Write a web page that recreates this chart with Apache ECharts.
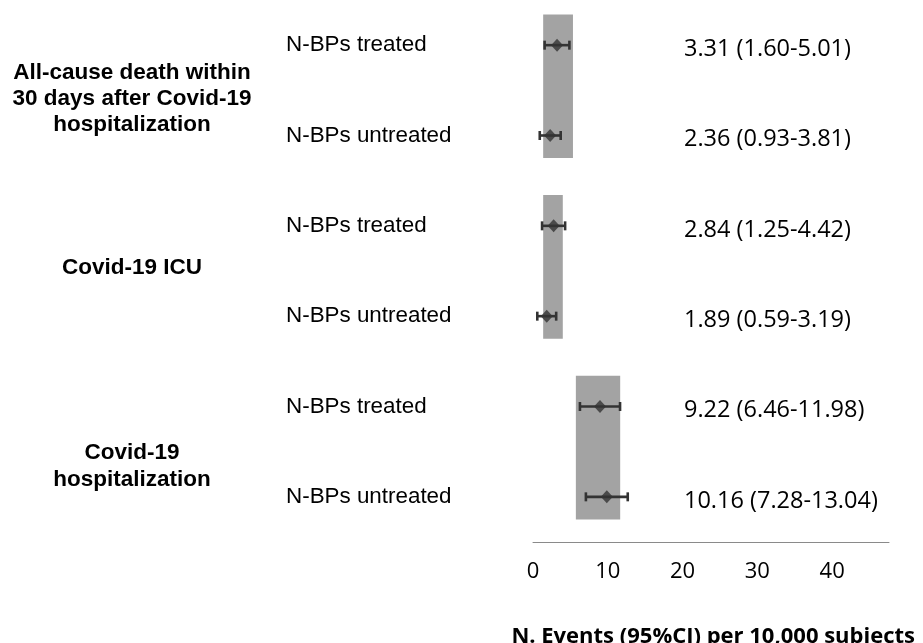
<!DOCTYPE html>
<html>
<head>
<meta charset="utf-8">
<script src="https://cdn.jsdelivr.net/npm/echarts@6/dist/echarts.min.js"></script>
<style>
html,body{margin:0;padding:0;background:#fff;}
#chart{width:923px;height:643px;}
</style>
</head>
<body>
<div id="chart"></div>
<script>
// ---- data ----
const groupNames = ['All-cause death within\n30 days after Covid-19\nhospitalization', 'Covid-19 ICU', 'Covid-19\nhospitalization'];
const rowLabels = ['N-BPs treated', 'N-BPs untreated', 'N-BPs treated', 'N-BPs untreated', 'N-BPs treated', 'N-BPs untreated'];
const estimates = [3.31, 2.36, 2.84, 1.89, 9.22, 10.16];
const lowerCI = [1.60, 0.93, 1.25, 0.59, 6.46, 7.28];
const upperCI = [5.01, 3.81, 4.42, 3.19, 11.98, 13.04];
const bandLow = [1.4, 1.4, 5.9];
const bandHigh = [5.5, 4.1, 12.0];
const bandRows = [[0, 1], [2, 3], [4, 5]];
const xTickValues = [0, 10, 20, 30, 40];
const axisTitle = 'N. Events (95%CI) per 10,000 subjects';

// ---- chart ----
const chart = echarts.init(document.getElementById('chart'), null, {renderer: 'canvas'});
const rowIdx = rowLabels.map((_, i) => i);
const fmt = v => v.toFixed(2);

const bandData = bandLow.map((lo, g) => [lo, bandHigh[g], bandRows[g][0], bandRows[g][1]]);
const ciData = rowIdx.map(i => [lowerCI[i], upperCI[i], i, estimates[i]]);
const pointData = rowIdx.map(i => [estimates[i], i]);

const groupStyle = {textAlign: 'center', textVerticalAlign: 'middle', fontFamily: 'Liberation Sans', fontWeight: 'bold', fontSize: 22.5, fill: '#000'};

const option = {
  backgroundColor: '#ffffff',
  animation: false,
  title: {
    text: axisTitle,
    right: 3,
    top: 621,
    textStyle: {fontFamily: 'Open Sans', fontWeight: 'bold', fontSize: 22, color: '#000'}
  },
  grid: {left: 533, top: -1, width: 356, height: 543, containLabel: false},
  xAxis: [
    {
      type: 'value', min: 0, max: 49, position: 'bottom',
      axisLine: {show: true, lineStyle: {color: '#8a8a8a', width: 1}},
      axisTick: {show: false}, axisLabel: {show: false}, splitLine: {show: false}
    },
    {
      type: 'value', min: 0, max: 47.6, interval: 10, position: 'bottom', offset: 0,
      axisLine: {show: false}, axisTick: {show: false}, splitLine: {show: false},
      axisLabel: {
        show: true, margin: 19, fontFamily: 'Open Sans', fontSize: 22, color: '#000',
        formatter: v => (xTickValues.indexOf(v) >= 0 ? String(v) : '')
      }
    }
  ],
  yAxis: {
    type: 'category', data: rowIdx, inverse: true,
    axisLine: {show: false}, axisTick: {show: false}, splitLine: {show: false},
    axisLabel: {
      align: 'left', margin: 247, fontFamily: 'Liberation Sans', fontSize: 22.4, color: '#000',
      padding: [3, 0, 0, 0],
      formatter: (v, i) => rowLabels[i]
    }
  },
  graphic: [
    {type: 'text', x: 132, y: 99, style: Object.assign({text: groupNames[0], lineHeight: 26}, groupStyle)},
    {type: 'text', x: 132, y: 268, style: Object.assign({text: groupNames[1], lineHeight: 26}, groupStyle)},
    {type: 'text', x: 132, y: 466, style: Object.assign({text: groupNames[2], lineHeight: 27}, groupStyle)}
  ],
  series: [
    {
      type: 'custom', name: 'bands', xAxisIndex: 0,
      data: bandData,
      encode: {x: [0, 1], y: [2, 3]},
      renderItem: (params, api) => {
        const p1 = api.coord([api.value(0), api.value(2)]);
        const p2 = api.coord([api.value(1), api.value(3)]);
        const bh = api.size([0, 1])[1];
        return {
          type: 'rect',
          shape: {x: p1[0], y: p1[1] - 0.34 * bh, width: p2[0] - p1[0], height: p2[1] - p1[1] + 0.59 * bh},
          style: {fill: '#a3a3a3'}
        };
      },
      z: 1
    },
    {
      type: 'custom', name: 'ci', xAxisIndex: 0,
      data: ciData,
      encode: {x: [0, 1], y: 2},
      renderItem: (params, api) => {
        const i = params.dataIndex;
        const pl = api.coord([api.value(0), api.value(2)]);
        const ph = api.coord([api.value(1), api.value(2)]);
        const cap = 4.5;
        const ls = {stroke: '#333', lineWidth: 2.6};
        return {
          type: 'group',
          children: [
            {type: 'line', shape: {x1: pl[0], y1: pl[1], x2: ph[0], y2: ph[1]}, style: ls},
            {type: 'line', shape: {x1: pl[0], y1: pl[1] - cap, x2: pl[0], y2: pl[1] + cap}, style: ls},
            {type: 'line', shape: {x1: ph[0], y1: ph[1] - cap, x2: ph[0], y2: ph[1] + cap}, style: ls},
            {type: 'text', x: 684, y: pl[1] + 4, style: {
              text: fmt(estimates[i]) + ' (' + fmt(lowerCI[i]) + '-' + fmt(upperCI[i]) + ')',
              textAlign: 'left', textVerticalAlign: 'middle',
              fontFamily: 'Open Sans', fontSize: 23.5, fill: '#000'
            }}
          ]
        };
      },
      z: 2
    },
    {
      type: 'scatter', name: 'estimate', xAxisIndex: 0,
      data: pointData,
      symbol: 'diamond', symbolSize: [12, 13],
      itemStyle: {color: '#333'},
      z: 3
    }
  ]
};
chart.setOption(option);
</script>
</body>
</html>
